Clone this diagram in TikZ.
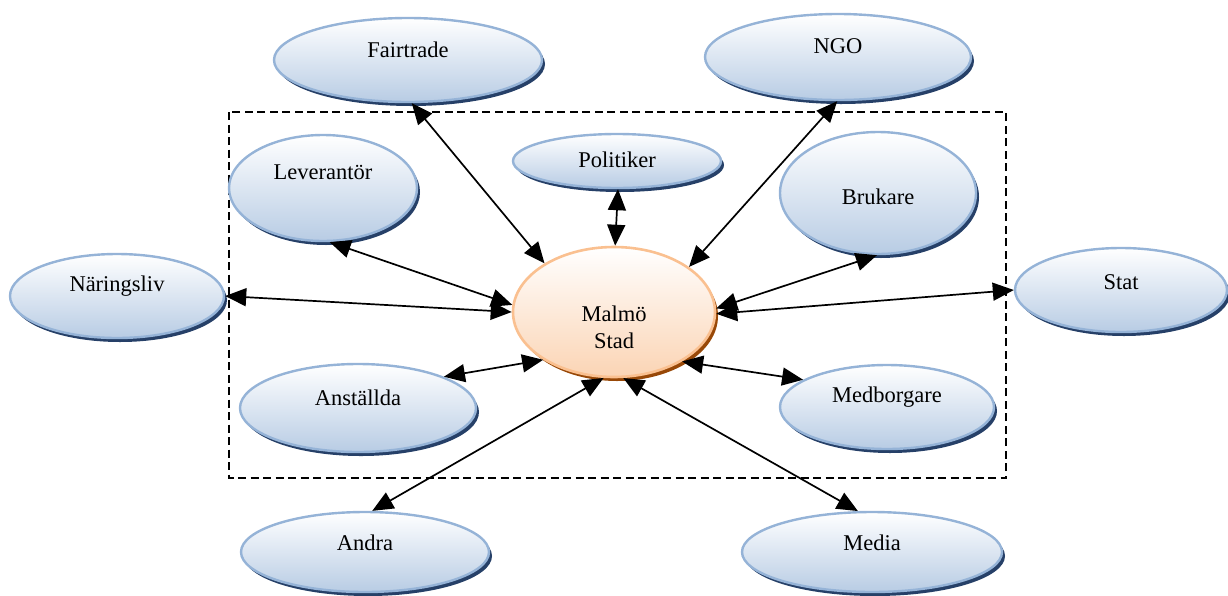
\documentclass[tikz,border=0pt]{standalone}
\usepackage{fontspec}
\setmainfont{Liberation Serif}
\usetikzlibrary{arrows.meta,shapes.geometric,shadows}
\definecolor{bluefill}{RGB}{184,204,228}
\definecolor{blueline}{RGB}{149,179,215}
\definecolor{blueshadow}{RGB}{38,64,104}
\definecolor{orangefill}{RGB}{251,212,180}
\definecolor{orangeline}{RGB}{250,192,144}
\definecolor{orangeshadow}{RGB}{152,72,7}
\begin{document}
\begin{tikzpicture}[x=1pt,y=-1pt,
  bub/.style={ellipse, draw=blueline, line width=2.4pt, top color=white, bottom color=bluefill,
    inner sep=0pt, drop shadow={shadow xshift=3pt, shadow yshift=-4pt, fill=blueshadow, opacity=1}},
  core/.style={ellipse, draw=orangeline, line width=2.6pt, top color=white, bottom color=orangefill,
    inner sep=0pt, drop shadow={shadow xshift=3pt, shadow yshift=-4pt, fill=orangeshadow, opacity=1}},
  sz/.style 2 args={minimum width=#1pt, minimum height=#2pt},
  lbl/.style={font=\fontsize{22.5}{27}\selectfont, text=black, align=center, inner sep=0pt},
  conn/.style={{Triangle[length=21pt,width=18pt]}-{Triangle[length=21pt,width=18pt]}, line width=1.7pt},
  dashbox/.style={line width=1.6pt, dash pattern=on 8pt off 4.5pt}
]
\useasboundingbox (0,0) rectangle (1228,595);
\draw[dashbox] (229,112) rectangle (1006,478);

\node[core, sz={202}{130}, label={[lbl,yshift=-15pt]center:Malmö\\Stad}] (ms) at (614,312) {};
\node[bub, sz={268}{84}, label={[lbl,yshift=10pt]center:Fairtrade}] (ft) at (408,60) {};
\node[bub, sz={266}{86}, label={[lbl,yshift=11pt]center:NGO}] (ngo) at (838,57) {};
\node[bub, sz={208}{54}, label={[lbl,yshift=1pt]center:Politiker}] (pol) at (617,161) {};
\node[bub, sz={188}{106}, label={[lbl,yshift=16pt]center:Leverantör}] (lev) at (323,188) {};
\node[bub, sz={196}{122}, label={[lbl,yshift=-4pt]center:Brukare}] (bru) at (878,193) {};
\node[bub, sz={214}{84}, label={[lbl,yshift=10pt]center:Näringsliv}] (nar) at (117,296) {};
\node[bub, sz={212}{84}, label={[lbl,yshift=8pt]center:Stat}] (stat) at (1121,290) {};
\node[bub, sz={236}{88}, label={[lbl,yshift=10pt]center:Anställda}] (ans) at (358,408) {};
\node[bub, sz={214}{84}, label={[lbl,yshift=10pt]center:Medborgare}] (med) at (887,407) {};
\node[bub, sz={248}{80}, label={[lbl,yshift=9pt]center:Andra}] (andra) at (365,552) {};
\node[bub, sz={260}{80}, label={[lbl,yshift=9pt]center:Media}] (media) at (872,552) {};

\draw[conn] (ft.-85) -- (ms.145);
\draw[conn] (ngo.-91) -- (ms.31);
\draw[conn] (pol.-88) -- (ms.89);
\draw[conn] (lev.-83) -- (ms.176);
\draw[conn] (nar.0) -- (ms.180);
\draw[conn] (bru.-91) -- (ms.2);
\draw[conn] (stat.180) -- (ms.-1);
\draw[conn] (ans.20) -- (ms.-146);
\draw[conn] (med.162) -- (ms.-36);
\draw[conn] (andra.80) -- (ms.-99);
\draw[conn] (media.109) -- (ms.-82);
\end{tikzpicture}
\end{document}
